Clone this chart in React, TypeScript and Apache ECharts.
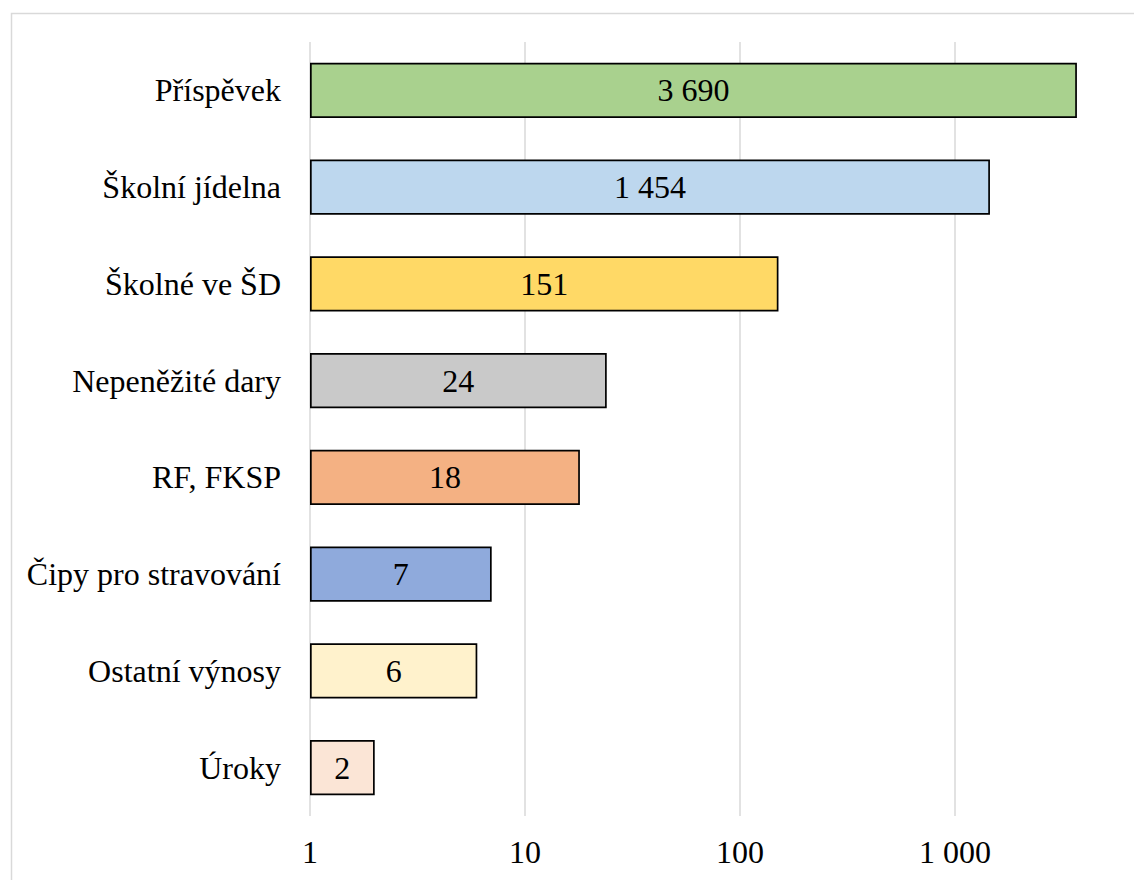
import React, { useEffect, useRef } from "react";
import * as echarts from "echarts";

const categories = [
  "Příspěvek",
  "Školní jídelna",
  "Školné ve ŠD",
  "Nepeněžité dary",
  "RF, FKSP",
  "Čipy pro stravování",
  "Ostatní výnosy",
  "Úroky",
];
const values = [3690, 1454, 151, 24, 18, 7, 6, 2];
const barColors = [
  "#A9D18E",
  "#BDD7EE",
  "#FFD966",
  "#C9C9C9",
  "#F4B183",
  "#8FAADC",
  "#FFF2CC",
  "#FBE5D6",
];
const axisMin = 1;
const axisMax = 10000;

const FONT = '"Liberation Serif", "Times New Roman", serif';
const fmt = (v: number) =>
  String(Math.round(v)).replace(/\B(?=(\d{3})+(?!\d))/g, " ");

export default function App() {
  const ref = useRef<HTMLDivElement>(null);
  useEffect(() => {
    if (!ref.current) return;
    const chart = echarts.init(ref.current, null, { renderer: "svg" });
    chart.setOption({
      animation: false,
      backgroundColor: "#ffffff",
      textStyle: { fontFamily: FONT },
      graphic: [
        {
          type: "rect",
          shape: { x: 11.5, y: 13.5, width: 1300, height: 1000 },
          style: { fill: "none", stroke: "#d9d9d9", lineWidth: 1.5 },
          silent: true,
        },
      ],
      grid: { left: 310, top: 42, width: 860, height: 774 },
      xAxis: {
        type: "log",
        logBase: 10,
        min: axisMin,
        max: axisMax,
        axisLine: { show: false },
        axisTick: { show: false },
        splitLine: { show: true, lineStyle: { color: "#d9d9d9", width: 1.5 } },
        axisLabel: {
          color: "#000",
          fontFamily: FONT,
          fontSize: 32,
          margin: 20,
          showMaxLabel: false,
          formatter: (v: number) => fmt(v),
        },
      },
      yAxis: {
        type: "category",
        inverse: true,
        data: categories,
        axisLine: { show: false },
        axisTick: { show: false },
        splitLine: { show: false },
        axisLabel: {
          color: "#000",
          fontFamily: FONT,
          fontSize: 32,
          margin: 29,
        },
      },
      series: [
        {
          type: "bar",
          barCategoryGap: "43%",
          data: values.map((v, i) => ({
            value: v,
            itemStyle: { color: barColors[i] },
          })),
          itemStyle: { borderColor: "#000", borderWidth: 1.7 },
          label: {
            show: true,
            position: "inside",
            color: "#000",
            fontFamily: FONT,
            fontSize: 32,
            formatter: (p: any) => fmt(p.value),
          },
        },
      ],
    });
    return () => chart.dispose();
  }, []);
  return (
    <div
      style={{
        position: "absolute",
        left: 0,
        top: 0,
        width: 1134,
        height: 880,
        overflow: "hidden",
      }}
    >
      <div ref={ref} style={{ width: 1220, height: 880 }} />
    </div>
  );
}
